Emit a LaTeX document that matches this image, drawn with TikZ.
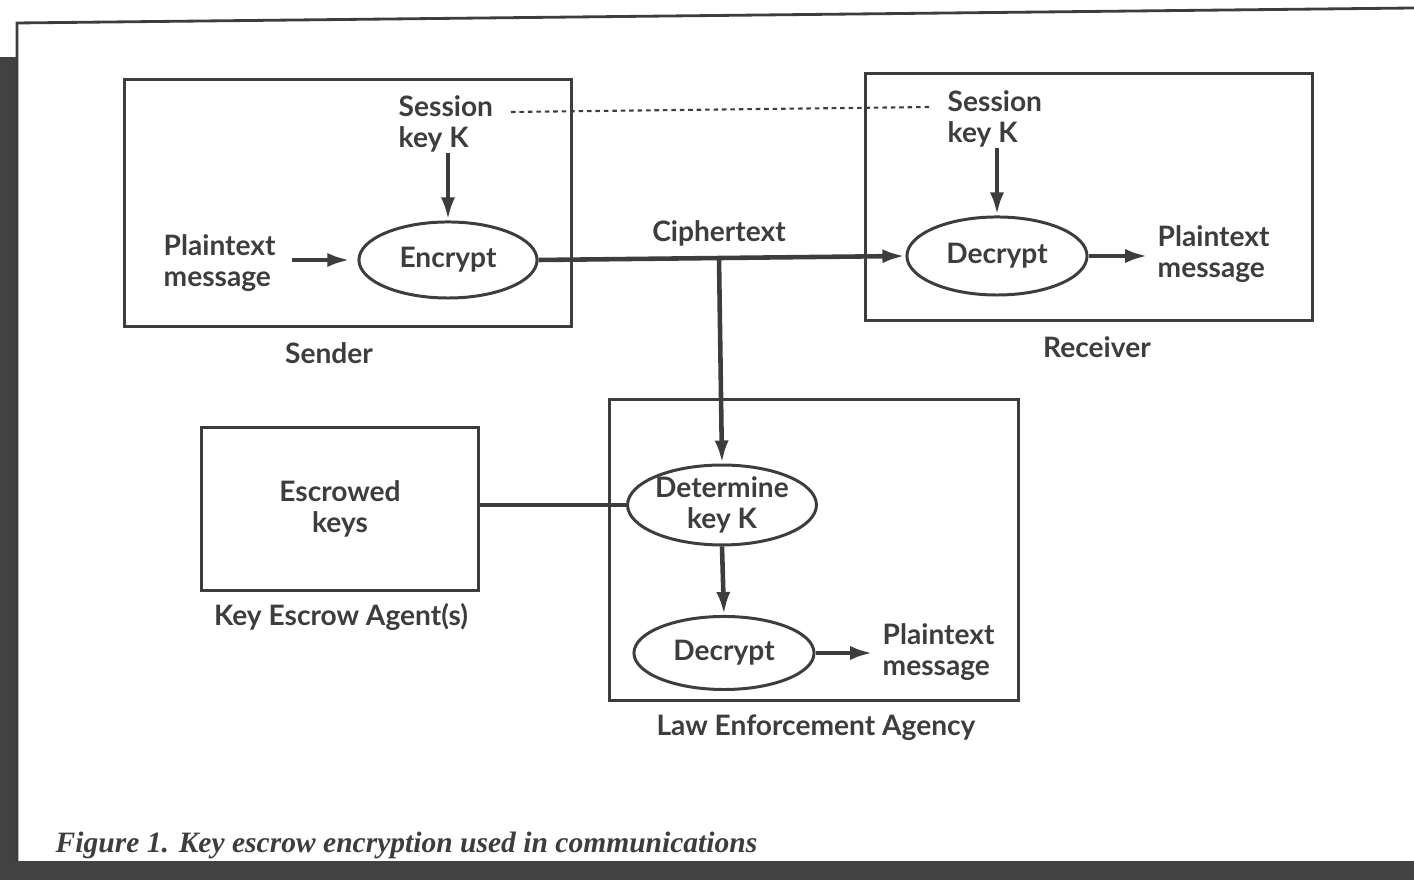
\documentclass[tikz,border=0pt]{standalone}
\usepackage{fontspec}
\setmainfont{Lato}
\newfontfamily\capfont{Liberation Serif}
\usetikzlibrary{shapes, positioning, arrows.meta}
\colorlet{inkColor}{black!76}
\colorlet{edgeColor}{black!74}
\tikzstyle{lbl}=[inner sep=0pt, align=left, text=inkColor,
  font=\bfseries\fontsize{8}{8.8}\selectfont]
\tikzstyle{oval}=[ellipse, draw=inkColor, line width=0.85pt, inner sep=0pt,
  align=center, text=inkColor, font=\bfseries\fontsize{8}{8.8}\selectfont]
\tikzstyle{party}=[draw=inkColor, line width=0.85pt, inner sep=0pt]
\tikzstyle{arrow}=[-{Latex[length=2.3mm,width=1.4mm]}, line width=1.3pt, draw=inkColor]
\tikzstyle{link}=[line width=1.3pt, draw=inkColor]
\tikzstyle{keyline}=[line width=0.6pt, draw=inkColor, dash pattern=on 1.3pt off 1.1pt]

\begin{document}
\begin{tikzpicture}[x=0.01cm, y=-0.01cm]
  \useasboundingbox (0,0) rectangle (1414,880);
  % page edge of the scan
  \fill[edgeColor] (0,57) rectangle (17,880);
  \fill[edgeColor] (0,861) rectangle (1414,880);
  \draw[line width=0.8pt, draw=inkColor] (17,861) -- (17,23) -- (1414,8);

  % the four parties
  \node[party, minimum width=4.46cm, minimum height=2.47cm] (sender) at (348,203) {};
  \node[party, minimum width=4.47cm, minimum height=2.46cm] (receiver) at (1089,197) {};
  \node[party, minimum width=2.77cm, minimum height=1.62cm, lbl, align=center] (escrow) at (340,509) {Escrowed\\keys};
  \node[party, minimum width=4.08cm, minimum height=3.0cm] (agency) at (814,550) {};

  \node[lbl] (senderName) at (329,353) {Sender};
  \node[lbl] (receiverName) at (1097,347) {Receiver};
  \node[lbl] (escrowName) at (341,617) {Key Escrow Agent(s)};
  \node[lbl] (agencyName) at (816,728) {Law Enforcement Agency};

  % sender side
  \node[lbl, anchor=west] (keyS) at (398,124) {Session\\key K};
  \node[lbl, anchor=west] (plainS) at (163,263) {Plaintext\\message};
  \node[oval, minimum width=1.78cm, minimum height=0.76cm] (encrypt) at (448,260) {Encrypt};
  \draw[arrow] (keyS.south -| encrypt.north) -- (encrypt.north);
  \draw[arrow, shorten <=4.5pt, shorten >=2pt] (plainS.east |- encrypt.west) -- (encrypt.west);

  % receiver side
  \node[lbl, anchor=west] (keyR) at (947,119) {Session\\key K};
  \node[lbl, anchor=west] (plainR) at (1157,254) {Plaintext\\message};
  \node[oval, minimum width=1.8cm, minimum height=0.78cm] (decryptR) at (997,256) {Decrypt};
  \draw[arrow] (keyR.south -| decryptR.north) -- (decryptR.north);
  \draw[arrow, shorten >=2.5pt] (decryptR.east) -- (plainR.west |- decryptR.east);

  % shared session key
  \coordinate (keyA) at (511,112);
  \coordinate (keyB) at (932,107);
  \draw[keyline] (keyA) -- (keyB);

  % ciphertext on the wire
  \node[lbl] (cipher) at (719,233) {Ciphertext};
  \draw[arrow] (encrypt.east) -- (decryptR.west);
  \coordinate (tap) at (719,258);

  % law enforcement side
  \node[oval, minimum width=1.85cm, minimum height=0.78cm] (determine) at (722,505) {Determine\\key K};
  \node[oval, minimum width=1.8cm, minimum height=0.73cm] (decryptL) at (724,653) {Decrypt};
  \node[lbl, anchor=west] (plainL) at (882,652) {Plaintext\\message};
  \draw[arrow] (tap) -- (determine.north);
  \draw[link] (escrow.east |- determine.west) -- (determine.west);
  \draw[arrow] (determine.south) -- (decryptL.north);
  \draw[arrow, shorten >=2.5pt] (decryptL.east) -- (plainL.west |- decryptL.east);

  \node[anchor=west, inner sep=0pt, text=inkColor,
    font=\capfont\bfseries\itshape\fontsize{8.4}{9}\selectfont] (caption) at (55,845)
    {Figure 1. Key escrow encryption used in communications};
\end{tikzpicture}
\end{document}
